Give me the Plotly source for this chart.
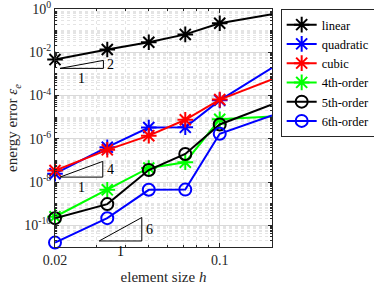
import numpy as np
import plotly.graph_objects as go

# ---- data ----
h = [1/50, 1/30, 1/20, 1/14, 1/10, 1/6]
names = ["linear", "quadratic", "cubic", "4th-order", "5th-order", "6th-order"]
err_linear = [4.6e-3, 1.35e-2, 2.9e-2, 6.7e-2, 2.2e-1, 5.7e-1]
err_quadratic = [2.45e-8, 4.1e-7, 3.3e-6, 3.4e-6, 6.0e-5, 1.9e-3]
err_cubic = [3.4e-8, 3.1e-7, 1.4e-6, 7.6e-6, 6.5e-5, 5.5e-4]
err_4th = [2.5e-10, 4.4e-9, 4.5e-8, 8.3e-8, 8.0e-6, 1.08e-5]
err_5th = [2.15e-10, 9.6e-10, 3.6e-8, 2.0e-7, 4.6e-6, 3.9e-5]
err_6th = [1.6e-11, 2.15e-10, 4.4e-9, 4.5e-9, 1.7e-6, 1.2e-5]
series = [err_linear, err_quadratic, err_cubic, err_4th, err_5th, err_6th]
colors = ["#000000", "#0000ff", "#ff0000", "#00ff00", "#000000", "#0000ff"]
symbols = ["asterisk-open"] * 4 + ["circle-open"] * 2

x_ticks = [0.02, 0.1]
x_ticklabels = ["0.02", "0.1"]
y_exps = [0, -2, -4, -6, -8, -10]

# slope triangles: (left h, right h, base error, order)
triangles = [(0.0210, 0.0321, 1.8e-3, 2), (0.0210, 0.0319, 1.7e-8, 4), (0.0308, 0.0467, 1.9e-11, 6)]

FONT = "Liberation Serif"

fig = go.Figure()
for name, ys, c, s in zip(names, series, colors, symbols):
    fig.add_trace(go.Scatter(
        x=h, y=ys, name=name, mode="lines+markers",
        line=dict(color=c, width=2),
        marker=dict(symbol=s, size=13 if s.startswith("aster") else 12,
                    color=c, line=dict(color=c, width=2)),
        cliponaxis=False,
    ))

annots = []
for (xl, xr, yb, p) in triangles:
    yt = yb * (xr / xl) ** p
    fig.add_trace(go.Scatter(
        x=[xl, xr, xr, xl], y=[yb, yb, yt, yb], mode="lines",
        line=dict(color="black", width=1), showlegend=False,
        hoverinfo="skip", cliponaxis=False))
    annots.append(dict(x=np.log10(xr) + 0.008, y=(np.log10(yb) + np.log10(yt)) / 2,
                       text=str(p), showarrow=False, xanchor="left", yanchor="middle",
                       font=dict(family=FONT, size=14, color="black")))
    annots.append(dict(x=(np.log10(xl) + np.log10(xr)) / 2, y=np.log10(yb) - 0.05,
                       text="1", showarrow=False, xanchor="center", yanchor="top",
                       font=dict(family=FONT, size=14, color="black")))

# minor ticks
x_minor = [k / 100 for k in range(3, 10)]
y_minor = []
for e in range(-11, 0):
    for k in range(1, 10):
        if k == 1 and e % 2 == 0:
            continue
        y_minor.append(k * 10.0 ** e)

axis_common = dict(
    showline=True, linecolor="#262626", linewidth=1, mirror="ticks",
    ticks="inside", ticklen=4, tickcolor="#262626",
    showgrid=True, gridcolor="#d9d9d9", gridwidth=1,
    zeroline=False, ticklabeloverflow="allow",
    tickfont=dict(family=FONT, size=14, color="#262626"),
)

fig.update_layout(
    width=374, height=285,
    margin=dict(l=55, r=102, t=9, b=38, autoexpand=False),
    paper_bgcolor="white", plot_bgcolor="white",
    font=dict(family=FONT, color="#262626"),
    xaxis=dict(type="log", range=[np.log10(0.02), np.log10(1/6)],
               tickmode="array", tickvals=x_ticks, ticktext=x_ticklabels,
               title=dict(text="element size <i>h</i>", font=dict(family=FONT, size=15, color="#262626"), standoff=4),
               minor=dict(tickmode="array", tickvals=x_minor, ticks="inside", ticklen=2,
                          tickcolor="#262626", showgrid=True, gridcolor="#e4e4e4", griddash="dot"),
               **axis_common),
    yaxis=dict(type="log", range=[-11, 0],
               tickmode="array", tickvals=[10.0 ** e for e in y_exps],
               ticktext=[f"10<sup>{e}</sup>" for e in y_exps],
               title=dict(text="energy error <i>ε</i><sub><i>e</i></sub>", font=dict(family=FONT, size=15, color="#262626"), standoff=2),
               minor=dict(tickmode="array", tickvals=y_minor, ticks="inside", ticklen=2,
                          tickcolor="#262626", showgrid=True, gridcolor="#e4e4e4", griddash="dot"),
               **axis_common),
    legend=dict(x=1.04, y=1.0, xanchor="left", yanchor="top",
                bgcolor="white", bordercolor="#262626", borderwidth=1,
                font=dict(family=FONT, size=12.5, color="black"),
                tracegroupgap=0, itemwidth=30),
    annotations=annots,
    showlegend=True,
)

fig.write_html("out.html", config={"displayModeBar": False},
               post_script="document.body.style.margin='0';document.body.style.overflow='hidden';")
